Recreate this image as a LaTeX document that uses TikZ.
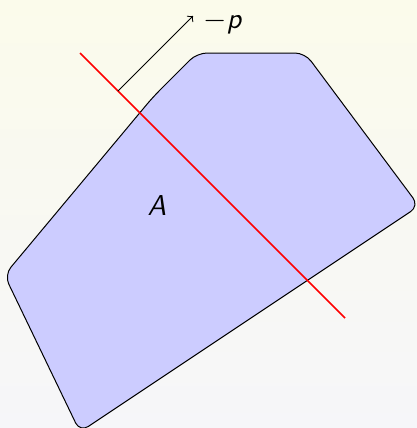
\documentclass[tikz,border=0pt]{standalone}
\usepackage{tikz}
\usetikzlibrary{positioning}
\definecolor{bgtop}{RGB}{251,251,235}
\definecolor{bgbottom}{RGB}{246,246,249}
\definecolor{hullblue}{RGB}{204,204,255}

\begin{document}
\begin{tikzpicture}[x=0.4pt,y=-0.4pt,font=\fontsize{11.5}{14}\selectfont\sffamily]
\useasboundingbox (0,0) rectangle (417,428);
\shade[top color=bgtop,bottom color=bgbottom] (0,0) rectangle (417,428);
\clip (0,0) rectangle (417,428);
% the set A
\filldraw[fill=hullblue,draw=black,rounded corners=4pt]
  (80,432) -- (4.4,275) -- (153,97) -- (197,53) -- (305,53) -- (419,206) -- cycle;
\node (setA) at (157,206) {\itshape A};
% the hyperplane and its normal
\coordinate (redtop) at (80,53);
\coordinate (redbot) at (345,318);
\coordinate (pbase) at (118,91);
\coordinate (ptip) at (193,16);
\draw[red,semithick] (redtop) -- (redbot);
\draw[->] (pbase) -- (ptip);
\node[right=3pt of ptip,inner sep=1pt,yshift=-2.5pt] (plabel) {$-$\itshape p};
\end{tikzpicture}
\end{document}
